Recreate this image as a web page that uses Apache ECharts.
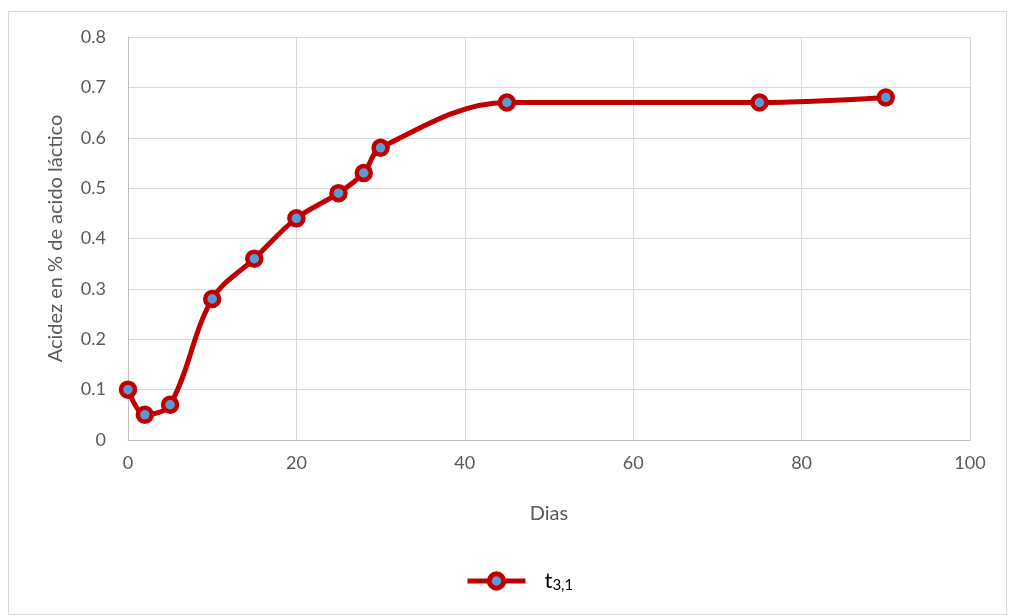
<!DOCTYPE html>
<html><head><meta charset="utf-8">
<script src="https://cdn.jsdelivr.net/npm/echarts@6/dist/echarts.min.js"></script>
<style>html,body{margin:0;padding:0;background:#fff}#c{width:1009px;height:616px}</style>
</head><body><div id="c"></div>
<script>
const days = [0, 2, 5, 10, 15, 20, 25, 28, 30, 45, 75, 90];
const acidity = [0.10, 0.05, 0.07, 0.28, 0.36, 0.44, 0.49, 0.53, 0.58, 0.67, 0.67, 0.68];
const seriesName = 't3,1';
const xTitle = 'Dias';
const yTitle = 'Acidez en % de acido láctico';

const chart = echarts.init(document.getElementById('c'));
const font = 'Lato, "Open Sans", sans-serif';
chart.setOption({
  animation: false,
  graphic: [{type:'rect', shape:{x:8.5,y:11.5,width:998,height:603}, style:{fill:'none', stroke:'#d9d9d9', lineWidth:1}, silent:true}],
  grid: {left:128, top:37, right:39, bottom:176, containLabel:false},
  xAxis: {
    type:'value', min:0, max:100, interval:20,
    name:xTitle, nameLocation:'middle', nameGap:64,
    nameTextStyle:{fontFamily:font, fontSize:20, color:'#595959'},
    axisLine:{show:true, lineStyle:{color:'#bfbfbf', width:1}},
    axisTick:{show:false},
    axisLabel:{fontFamily:font, fontSize:18, color:'#595959', margin:14},
    splitLine:{show:true, lineStyle:{color:'#d9d9d9', width:1}}
  },
  yAxis: {
    type:'value', min:0, max:0.8, interval:0.1,
    name:yTitle, nameLocation:'middle', nameGap:62,
    nameTextStyle:{fontFamily:font, fontSize:20, color:'#595959'},
    axisLine:{show:true, lineStyle:{color:'#bfbfbf', width:1}},
    axisTick:{show:false},
    axisLabel:{fontFamily:font, fontSize:18, color:'#595959', margin:22, formatter:v=>String(+v.toFixed(1))},
    splitLine:{show:true, lineStyle:{color:'#d9d9d9', width:1}}
  },
  legend: {
    bottom:18, left:460, itemWidth:58, itemHeight:18,
    data:[{name:seriesName}],
    lineStyle:{width:5, color:'#c00000'},
    itemStyle:{color:'#5b9bd5', borderColor:'#c00000', borderWidth:5},
    formatter: ()=>'{t|t}{s|3,1}',
    textStyle:{rich:{t:{fontFamily:font, fontSize:22, color:'#000', padding:[0,0,0,14]}, s:{fontFamily:font, fontSize:15, color:'#000', verticalAlign:'bottom', padding:[9,0,0,0]}}}
  },
  series: [{
    name:seriesName, type:'line', smooth:0.35,
    data: days.map((d,i)=>[d, acidity[i]]),
    lineStyle:{color:'#c00000', width:5},
    itemStyle:{color:'#5b9bd5', borderColor:'#c00000', borderWidth:4.5},
    symbol:'circle', symbolSize:14
  }]
});
</script></body></html>
